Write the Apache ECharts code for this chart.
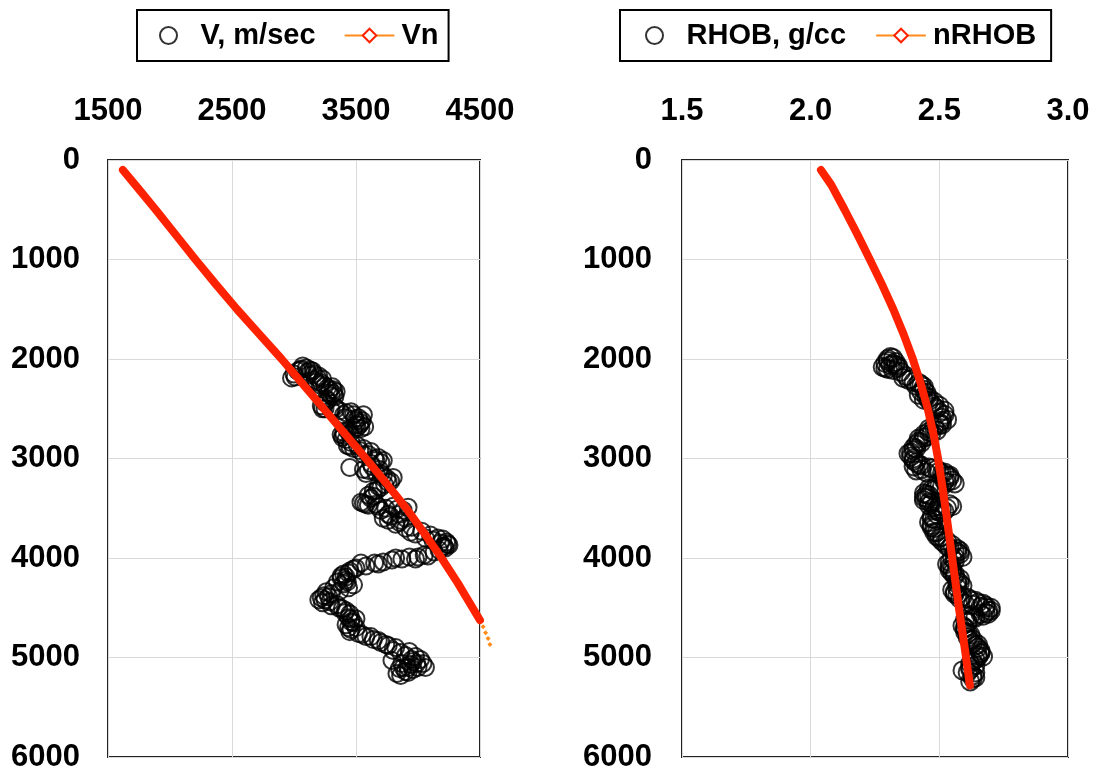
<!DOCTYPE html>
<html>
<head>
<meta charset="utf-8">
<script src="https://cdn.jsdelivr.net/npm/echarts@6/dist/echarts.min.js"></script>
<style>html,body{margin:0;padding:0;background:#fff;}</style>
</head>
<body>
<div id="main" style="width:1101px;height:775px;"></div>
<script type="text/javascript">
    var velValue = [2980, 3000, 3030, 3070, 3100, 3130, 3160, 3190, 3220, 3250, 3290, 3320, 3330, 3260, 3220, 3250,
        3300, 3370, 3420, 3480, 3520, 3550, 3570, 3540, 3480, 3400, 3380, 3420, 3430, 3480, 3530, 3600,
        3680, 3700, 3450, 3560, 3600, 3660, 3720, 3800, 3760, 3700, 3640, 3600, 3540, 3600, 3660, 3740,
        3830, 3920, 3850, 3780, 3720, 3760, 3850, 3950, 4030, 4100, 4160, 4230, 4250, 4200, 4130, 4080,
        4000, 3930, 3870, 3790, 3720, 3650, 3580, 3500, 3450, 3400, 3380, 3420, 3480, 3440, 3370, 3300,
        3240, 3200, 3230, 3300, 3360, 3420, 3450, 3460, 3480, 3440, 3450, 3520, 3580, 3640, 3700, 3760,
        3820, 3860, 3930, 3980, 4040, 4000, 3960, 3900, 3830, 3880, 3790,
        3010, 3060, 3110, 3150, 3200, 3180, 3230, 3270, 3310, 3340, 3300, 3250, 3230, 3330, 3400, 3460,
        3500, 3530, 3560, 3510, 3450, 3390, 3460, 3510, 3560, 3620, 3650, 3720, 3630, 3580, 3690, 3750,
        3730, 3670, 3620, 3580, 3700, 3800, 3880, 3900, 3820, 3900, 3980, 4060, 4120, 4200, 4220, 4170,
        4050, 3980, 3820, 3680, 3540, 3480, 3420, 3350, 3400, 3320, 3260, 3250, 3290, 3390, 3440, 3500,
        3420, 3500, 3550, 3620, 3680, 3740, 3800, 3900, 3950, 4020, 4060, 3940, 3850, 3920, 3860,
        3050, 3120, 3170, 3210, 3280, 3320, 3270, 3340, 3410, 3490, 3540, 3500, 3430, 3400, 3450, 3560,
        3660, 3620, 3700, 3780, 3680, 3640, 3560, 3680, 3760, 3860, 3940, 4180, 4240, 4210, 3440, 3380,
        3430, 3280, 3220, 3350, 3410, 3460, 3460, 3990, 3920, 3960, 3870];
    var velDepth = [2190, 2150, 2120, 2070, 2090, 2110, 2150, 2190, 2240, 2270, 2310, 2350, 2380, 2400, 2470, 2500,
        2510, 2520, 2540, 2560, 2590, 2620, 2680, 2700, 2710, 2740, 2760, 2810, 2870, 2900, 2920, 2960,
        2990, 3040, 3090, 3110, 3120, 3140, 3170, 3190, 3240, 3290, 3330, 3370, 3440, 3470, 3460, 3500,
        3510, 3490, 3560, 3580, 3600, 3620, 3640, 3690, 3730, 3770, 3800, 3840, 3870, 3890, 3940, 3980,
        3990, 3990, 4010, 4020, 4040, 4050, 4080, 4100, 4130, 4160, 4200, 4220, 4270, 4300, 4330, 4360,
        4380, 4420, 4450, 4480, 4500, 4530, 4560, 4610, 4650, 4700, 4740, 4760, 4790, 4820, 4850, 4880,
        4900, 4950, 4940, 4990, 5060, 5100, 5120, 5140, 5160, 5100, 5030,
        2180, 2100, 2130, 2120, 2170, 2230, 2200, 2290, 2280, 2330, 2370, 2440, 2500, 2480, 2560, 2530,
        2620, 2660, 2560, 2690, 2750, 2790, 2840, 2870, 2900, 2930, 3000, 3020, 3080, 3150, 3110, 3200,
        3260, 3320, 3400, 3460, 3520, 3480, 3520, 3600, 3660, 3700, 3760, 3800, 3820, 3810, 3900, 3920,
        3970, 4010, 4000, 4060, 4050, 4110, 4190, 4240, 4260, 4300, 4340, 4420, 4440, 4510, 4600, 4610,
        4670, 4700, 4770, 4790, 4830, 4870, 4930, 4980, 5020, 5020, 5100, 5070, 5110, 5150, 5180,
        2110, 2160, 2210, 2260, 2340, 2310, 2420, 2500, 2590, 2600, 2640, 2660, 2720, 2770, 2880, 2960,
        3020, 3050, 3150, 3230, 3280, 3380, 3450, 3480, 3560, 3620, 3740, 3850, 3860, 3880, 4150, 4180,
        4240, 4390, 4400, 4470, 4550, 4640, 4720, 5060, 5100, 5040, 5060];

    // normal compaction velocity trend
    var vnDepth = [100, 250, 500, 750, 1000, 1250, 1500, 1750, 2000, 2250, 2500, 2750, 3000, 3250, 3500, 3750, 4000, 4250, 4500, 4625];
    var vnValue = [1620, 1720, 1885, 2045, 2205, 2370, 2540, 2720, 2900, 3070, 3240, 3410, 3580, 3745, 3905, 4050, 4190, 4320, 4440, 4500];
    var vnTailDepth = [4625, 4690, 4750, 4810, 4870];
    var vnTailValue = [4500, 4525, 4545, 4565, 4580];

    var rhobValue = [2.30, 2.32, 2.29, 2.31, 2.28, 2.33, 2.34, 2.30, 2.37, 2.39, 2.42, 2.44, 2.43, 2.45, 2.46, 2.48,
        2.50, 2.51, 2.50, 2.48, 2.46, 2.44, 2.42, 2.41, 2.40, 2.39, 2.41, 2.40, 2.43, 2.47, 2.50, 2.53,
        2.55, 2.52, 2.49, 2.46, 2.44, 2.45, 2.47, 2.50, 2.53, 2.54, 2.50, 2.47, 2.46, 2.48, 2.49, 2.51,
        2.53, 2.56, 2.58, 2.55, 2.53, 2.54, 2.56, 2.58, 2.57, 2.55, 2.57, 2.61, 2.64, 2.67, 2.68, 2.69,
        2.66, 2.62, 2.60, 2.59, 2.60, 2.61, 2.63, 2.65, 2.66, 2.65, 2.63, 2.62, 2.59, 2.64, 2.63,
        2.31, 2.33, 2.29, 2.32, 2.35, 2.36, 2.40, 2.41, 2.44, 2.42, 2.44, 2.47, 2.49, 2.52, 2.53, 2.51,
        2.49, 2.47, 2.45, 2.43, 2.40, 2.38, 2.40, 2.42, 2.41, 2.45, 2.49, 2.52, 2.54, 2.56, 2.51, 2.48,
        2.46, 2.44, 2.46, 2.49, 2.52, 2.55, 2.48, 2.47, 2.48, 2.50, 2.52, 2.54, 2.57, 2.59, 2.56, 2.54,
        2.55, 2.57, 2.59, 2.56, 2.58, 2.60, 2.63, 2.66, 2.70, 2.69, 2.67, 2.64, 2.61, 2.60, 2.62, 2.62,
        2.64, 2.66, 2.67, 2.64, 2.62, 2.61, 2.63, 2.62,
        2.30, 2.32, 2.34, 2.38, 2.43, 2.45, 2.46, 2.48, 2.50, 2.52, 2.51, 2.50, 2.46, 2.44, 2.42, 2.41,
        2.39, 2.40, 2.43, 2.46, 2.51, 2.54, 2.53, 2.50, 2.47, 2.45, 2.44, 2.46, 2.48, 2.51, 2.49, 2.47,
        2.47, 2.49, 2.51, 2.53, 2.55, 2.57, 2.58, 2.56, 2.54, 2.55, 2.56, 2.58, 2.57, 2.56, 2.59, 2.62,
        2.65, 2.68, 2.70, 2.68, 2.63, 2.61, 2.60, 2.61, 2.63, 2.65, 2.66, 2.65, 2.64, 2.62, 2.64];
    var rhobDepth = [2000, 1990, 2040, 2060, 2080, 2030, 2090, 2100, 2170, 2200, 2240, 2280, 2330, 2380, 2420, 2480,
        2540, 2590, 2640, 2680, 2700, 2760, 2800, 2860, 2920, 2980, 3040, 3080, 3110, 3100, 3130, 3170,
        3220, 3230, 3260, 3300, 3350, 3400, 3450, 3480, 3500, 3460, 3540, 3580, 3640, 3700, 3780, 3830,
        3880, 3930, 3960, 4000, 4060, 4120, 4180, 4210, 4260, 4320, 4370, 4400, 4430, 4460, 4500, 4530,
        4560, 4580, 4620, 4680, 4740, 4800, 4860, 4900, 4960, 5000, 5040, 5100, 5130, 5150, 5210,
        1980, 2060, 2090, 2110, 2130, 2190, 2230, 2270, 2310, 2360, 2410, 2450, 2500, 2560, 2610, 2660,
        2720, 2740, 2780, 2840, 2890, 2950, 3000, 3060, 3120, 3140, 3110, 3140, 3190, 3250, 3280, 3320,
        3370, 3420, 3470, 3520, 3530, 3480, 3610, 3670, 3740, 3800, 3850, 3900, 3940, 3990, 4030, 4090,
        4150, 4230, 4280, 4340, 4410, 4460, 4470, 4490, 4500, 4560, 4580, 4600, 4650, 4710, 4770, 4830,
        4880, 4930, 4990, 5020, 5060, 5150, 5180, 5240,
        2020, 2050, 2070, 2210, 2260, 2340, 2390, 2430, 2470, 2520, 2620, 2660, 2730, 2790, 2830, 2900,
        2940, 3020, 3070, 3090, 3150, 3170, 3240, 3270, 3310, 3360, 3390, 3440, 3490, 3510, 3560, 3600,
        3690, 3740, 3790, 3830, 3870, 3910, 3930, 3990, 4040, 4110, 4160, 4250, 4300, 4360, 4390, 4420,
        4450, 4480, 4530, 4550, 4600, 4640, 4700, 4760, 4820, 4870, 4950, 4980, 5080, 5120, 5200];

    // normal compaction density trend
    var nrhobDepth = [100, 250, 500, 750, 1000, 1250, 1500, 1750, 2000, 2250, 2500, 2750, 3000, 3250, 3500, 3750, 4000, 4250, 4500, 4750, 5000, 5250, 5280];
    var nrhobValue = [2.040, 2.080, 2.132, 2.182, 2.230, 2.277, 2.321, 2.361, 2.397, 2.428, 2.455, 2.477, 2.495, 2.510, 2.524, 2.537, 2.550, 2.563, 2.576, 2.590, 2.604, 2.617, 2.619];

    var depthTicks = [0, 6000, 1000];

    function pairs(xs, ys) {
        var out = [];
        for (var i = 0; i < xs.length; i++) out.push([xs[i], ys[i]]);
        return out;
    }

    var font = "'Liberation Sans', Arial, sans-serif";
    var red = '#ff2200';
    var orange = '#ff8c1a';

    var labelStyle = {color: '#000', fontSize: 31, fontWeight: 'bold', fontFamily: font};
    var gridLine = {show: true, lineStyle: {color: '#d9d9d9', width: 1}};
    var plain = function (v) { return String(v); };

    var myChart = echarts.init(document.getElementById('main'));

    var circleStyle = {color: 'rgba(0,0,0,0)', borderColor: '#000', borderWidth: 2};

    var legendBase = {
        top: 10,
        orient: 'horizontal',
        backgroundColor: '#fff',
        borderColor: '#000',
        borderWidth: 2,
        borderRadius: 0,
        itemWidth: 48,
        itemHeight: 17,
        itemGap: 29,
        selectedMode: false,
        textStyle: {color: '#000', fontSize: 29, fontWeight: 'bold', fontFamily: font, padding: [0, 0, 0, 3]}
    };

    var option = {
        animation: false,
        backgroundColor: '#fff',
        legend: [
            Object.assign({}, legendBase, {
                left: 137,
                padding: [11, 10, 11, 22],
                data: [
                    {name: 'V, m/sec', icon: 'circle', itemStyle: circleStyle},
                    {name: 'Vn', lineStyle: {color: orange, width: 2}, itemStyle: {color: '#fff', borderColor: red, borderWidth: 2}}
                ]
            }),
            Object.assign({}, legendBase, {
                left: 620,
                itemGap: 30,
                padding: [11, 15, 11, 25],
                data: [
                    {name: 'RHOB, g/cc', icon: 'circle', itemStyle: circleStyle},
                    {name: 'nRHOB', lineStyle: {color: orange, width: 2}, itemStyle: {color: '#fff', borderColor: red, borderWidth: 2}}
                ]
            })
        ],
        grid: [
            {left: 108, top: 160, width: 372, height: 597, show: true, borderColor: '#222', borderWidth: 2, backgroundColor: 'transparent'},
            {left: 682, top: 160, width: 386, height: 597, show: true, borderColor: '#222', borderWidth: 2, backgroundColor: 'transparent'}
        ],
        xAxis: [
            {
                gridIndex: 0, type: 'value', position: 'top', min: 1500, max: 4500, interval: 1000,
                axisLine: {show: false}, axisTick: {show: false}, splitLine: gridLine,
                axisLabel: Object.assign({margin: 33, formatter: plain}, labelStyle)
            },
            {
                gridIndex: 1, type: 'value', position: 'top', min: 1.5, max: 3.0, interval: 0.5,
                axisLine: {show: false}, axisTick: {show: false}, splitLine: gridLine,
                axisLabel: Object.assign({margin: 33, formatter: function (v) { return v.toFixed(1); }}, labelStyle)
            }
        ],
        yAxis: [
            {
                gridIndex: 0, type: 'value', inverse: true, min: depthTicks[0], max: depthTicks[1], interval: depthTicks[2],
                axisLine: {show: false}, axisTick: {show: false}, splitLine: gridLine,
                axisLabel: Object.assign({margin: 28, formatter: plain}, labelStyle)
            },
            {
                gridIndex: 1, type: 'value', inverse: true, min: depthTicks[0], max: depthTicks[1], interval: depthTicks[2],
                axisLine: {show: false}, axisTick: {show: false}, splitLine: gridLine,
                axisLabel: Object.assign({margin: 30, formatter: plain}, labelStyle)
            }
        ],
        series: [
            {
                name: 'V, m/sec', type: 'scatter', xAxisIndex: 0, yAxisIndex: 0,
                symbol: 'circle', symbolSize: 17, symbolKeepAspect: true,
                itemStyle: circleStyle,
                data: pairs(velValue, velDepth)
            },
            {
                name: 'Vn tail', type: 'line', xAxisIndex: 0, yAxisIndex: 0,
                symbol: 'diamond', symbolSize: 5, showSymbol: true, clip: false,
                lineStyle: {color: orange, width: 2},
                itemStyle: {color: orange},
                data: pairs(vnTailValue, vnTailDepth), z: 2
            },
            {
                name: 'Vn', type: 'line', xAxisIndex: 0, yAxisIndex: 0,
                symbol: 'diamond', showSymbol: false, clip: true,
                lineStyle: {color: red, width: 8, cap: 'round'},
                itemStyle: {color: red},
                data: pairs(vnValue, vnDepth), z: 3
            },
            {
                name: 'RHOB, g/cc', type: 'scatter', xAxisIndex: 1, yAxisIndex: 1,
                symbol: 'circle', symbolSize: 18, symbolKeepAspect: true,
                itemStyle: circleStyle,
                data: pairs(rhobValue, rhobDepth)
            },
            {
                name: 'nRHOB', type: 'line', xAxisIndex: 1, yAxisIndex: 1,
                symbol: 'diamond', showSymbol: false, clip: true,
                lineStyle: {color: red, width: 8, cap: 'round'},
                itemStyle: {color: red},
                data: pairs(nrhobValue, nrhobDepth), z: 3
            }
        ]
    };

    myChart.setOption(option);
</script>
</body>
</html>
